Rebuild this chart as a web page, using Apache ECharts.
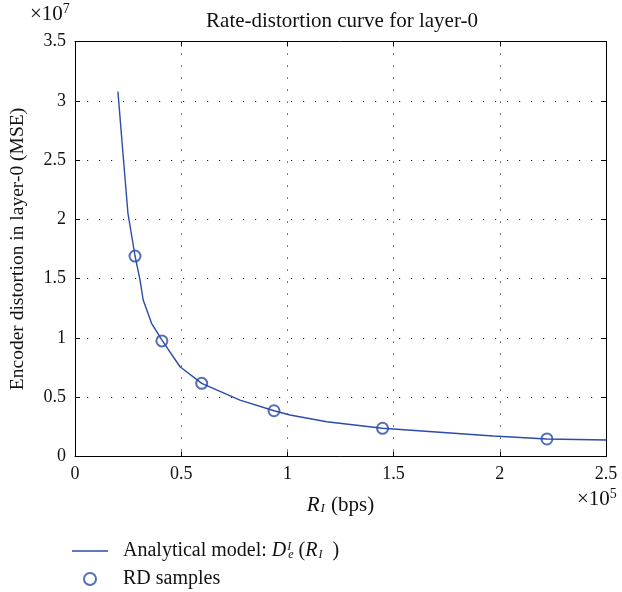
<!DOCTYPE html>
<html>
<head>
<meta charset="utf-8">
<script src="https://cdn.jsdelivr.net/npm/echarts@6/dist/echarts.min.js"></script>
<style>
    html,body{margin:0;padding:0;background:#fff;}
    #chart{width:622px;height:592px;}
</style>
</head>
<body>
<div id="chart"></div>
<script>
// rate in bps, distortion in MSE
let modelRate = [20210, 22770, 24930, 28250, 30600, 32100, 36050, 41100, 49440, 59650, 77680, 93700, 101200, 118500, 144800, 196900, 222200, 250000];
let modelDist = [3.077e7, 2.515e7, 2.051e7, 1.693e7, 1.489e7, 1.320e7, 1.123e7, 0.977e7, 0.757e7, 0.617e7, 0.476e7, 0.386e7, 0.350e7, 0.293e7, 0.238e7, 0.173e7, 0.148e7, 0.139e7];
let sampleRate = [28250, 40900, 59650, 93700, 144800, 222200];
let sampleDist = [1.69e7, 0.975e7, 0.617e7, 0.386e7, 0.238e7, 0.148e7];
let xTicks = ['0', '0.5', '1', '1.5', '2', '2.5'];
let yTicks = ['0', '0.5', '1', '1.5', '2', '2.5', '3', '3.5'];

let serif = 'Liberation Serif';
let blue = '#2b4ca8';
let ink = '#111';

function pairs(xs, ys){
    let out = [];
    for(let i=0;i<xs.length;i++){
        out.push([xs[i], ys[i]]);
    }
    return out;
}

let dotted = {show:true, lineStyle:{color:'#222', width:1, type:[1.2, 10.8]}};
let plain = {color:'#000', width:1};

let chart = echarts.init(document.getElementById('chart'), null, {renderer:'canvas'});
chart.setOption({
    animation:false,
    textStyle:{fontFamily:serif},
    title:{
        text:'Rate-distortion curve for layer-0',
        left:337, top:6, textAlign:'center',
        textStyle:{fontFamily:serif, fontSize:21, fontWeight:'normal', color:ink}
    },
    grid:{left:75, right:16, top:41.5, bottom:135.5},
    xAxis:[{
        type:'value', min:0, max:250000, interval:50000,
        axisLine:{show:true, onZero:false, lineStyle:plain},
        axisTick:{show:true, inside:true, length:5, lineStyle:plain},
        axisLabel:{color:ink, fontSize:18, fontFamily:serif, margin:9,
            formatter:function(v){ return xTicks[Math.round(v/50000)]; }},
        splitLine:dotted,
        name:'{it|R}{sub|I} (bps)', nameLocation:'middle', nameGap:38,
        nameTextStyle:{color:ink, fontSize:21, fontFamily:serif,
            rich:{it:{fontStyle:'italic', fontSize:21, fontFamily:serif, color:ink},
                  sub:{fontStyle:'italic', fontSize:13, fontFamily:serif, color:ink, verticalAlign:'bottom', padding:[8,1,0,1]}}}
    },{
        type:'value', position:'top', min:0, max:250000, interval:50000,
        axisLine:{show:true, onZero:false, lineStyle:plain},
        axisTick:{show:true, inside:true, length:5, lineStyle:plain},
        axisLabel:{show:false}, splitLine:{show:false}
    }],
    yAxis:[{
        type:'value', min:0, max:3.5e7, interval:0.5e7,
        axisLine:{show:true, onZero:false, lineStyle:plain},
        axisTick:{show:true, inside:true, length:5, lineStyle:plain},
        axisLabel:{color:ink, fontSize:18, fontFamily:serif, margin:9,
            formatter:function(v){ return yTicks[Math.round(v/0.5e7)]; }},
        splitLine:dotted,
        name:'Encoder distortion in layer-0 (MSE)', nameLocation:'middle', nameGap:47,
        nameTextStyle:{color:ink, fontSize:19.5, fontFamily:serif}
    },{
        type:'value', position:'right', min:0, max:3.5e7, interval:0.5e7,
        axisLine:{show:true, onZero:false, lineStyle:plain},
        axisTick:{show:true, inside:true, length:5, lineStyle:plain},
        axisLabel:{show:false}, splitLine:{show:false}
    }],
    legend:{
        orient:'vertical', left:72, top:541, height:70, padding:0,
        itemWidth:36, itemHeight:12, itemGap:8,
        textStyle:{fontFamily:serif, fontSize:20, color:ink, padding:[0,0,0,10],
            rich:{
                it:{fontStyle:'italic', fontSize:20, fontFamily:serif, color:ink},
                sup:{fontStyle:'italic', fontSize:12, fontFamily:serif, color:ink, width:0, verticalAlign:'top', padding:[0,0,6,1]},
                sub:{fontStyle:'italic', fontSize:12, fontFamily:serif, color:ink, verticalAlign:'bottom', padding:[6,0,0,1]},
                t:{fontSize:20, fontFamily:serif, color:ink}
            }},
        formatter:function(name){
            if(name === 'model'){
                return '{t|Analytical model: }{it|D}{sup|I}{sub|e}{t| (}{it|R}{sub|I}{t|  )}';
            }
            return '{t|RD samples}';
        },
        data:[
            {name:'model', icon:'path://M0,0 L36,0 L36,1.3 L0,1.3 Z', itemStyle:{color:blue}},
            {name:'samples'}
        ]
    },
    series:[{
        name:'model', type:'line', data:pairs(modelRate, modelDist),
        showSymbol:false, symbol:'none',
        lineStyle:{color:blue, width:1.4}, itemStyle:{color:blue}
    },{
        name:'samples', type:'scatter', data:pairs(sampleRate, sampleDist),
        symbol:'emptyCircle', symbolSize:11,
        itemStyle:{color:blue, borderColor:blue, borderWidth:1.4}
    }],
    graphic:[{
        type:'text', left:30, top:2,
        style:{text:'×10{s|7}', font:'21px "Liberation Serif"', fill:ink,
            rich:{s:{fontSize:14, fontFamily:serif, verticalAlign:'top', padding:[0,0,10,0]}}}
    },{
        type:'text', left:577, top:487,
        style:{text:'×10{s|5}', font:'21px "Liberation Serif"', fill:ink,
            rich:{s:{fontSize:14, fontFamily:serif, verticalAlign:'top', padding:[0,0,10,0]}}}
    }]
});
</script>
</body>
</html>
